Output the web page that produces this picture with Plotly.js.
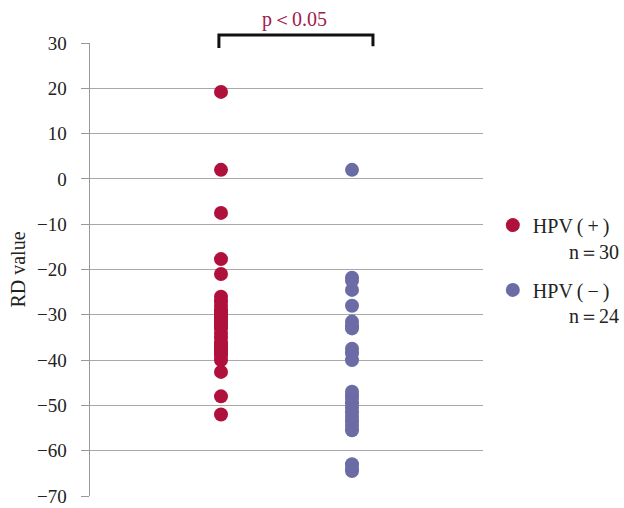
<!DOCTYPE html>
<html>
<head>
<meta charset="utf-8">
<script src="https://cdn.plot.ly/plotly-3.0.1.min.js"></script>
<style>html,body{margin:0;padding:0;background:#fff;}#chart{width:624px;height:508px;}</style>
</head>
<body>
<div id="chart"></div>
<script>
const groupNames = ["HPV\u2009(\u2009+\u2009)", "HPV\u2009(\u2009−\u2009)"];
const groupCounts = ["n＝30", "n＝24"];
const groupPositions = [1, 2];
const hpvPositive = [19.2, 2, -7.5, -17.7, -21, -26, -27, -28, -29, -29.5, -30, -30.5, -31, -31.5, -32, -32.5, -33, -34, -35, -36, -36.5, -37, -37.5, -38, -38.5, -39, -40, -42.6, -48, -52];
const hpvNegative = [2, -21.8, -22.5, -24.5, -28, -31.5, -32.5, -33, -37.5, -38.5, -40, -47, -47.8, -48.5, -49.5, -50.5, -51.5, -52.5, -53.5, -54.5, -55.5, -63, -64, -64.5];
const yTicks = [30, 20, 10, 0, -10, -20, -30, -40, -50, -60, -70];
const pText = "p＜0.05";

const serif = "Liberation Serif, Times New Roman, serif";
const red = "#b0103c";
const blue = "#6b6ba6";

const traces = [
  {x: hpvPositive.map(() => groupPositions[0]), y: hpvPositive, type: "scatter", mode: "markers",
   name: groupNames[0], legend: "legend", marker: {color: red, size: 14}, cliponaxis: false},
  {x: hpvNegative.map(() => groupPositions[1]), y: hpvNegative, type: "scatter", mode: "markers",
   name: groupNames[1], legend: "legend2", marker: {color: blue, size: 14}, cliponaxis: false}
];

const layout = {
  width: 624, height: 508,
  margin: {l: 90, r: 141, t: 43, b: 12, autoexpand: false},
  paper_bgcolor: "#fff", plot_bgcolor: "#fff",
  font: {family: serif, color: "#222", size: 20},
  showlegend: true,
  xaxis: {range: [0, 3], showgrid: false, zeroline: false, showticklabels: false, ticks: "", showline: false, fixedrange: true},
  yaxis: {range: [-70, 30], tickvals: yTicks, ticks: "outside", ticklen: 8, tickcolor: "#999",
          ticklabelstandoff: 10,
          showgrid: true, gridcolor: "#a8a8a8", gridwidth: 1, zeroline: false,
          showline: true, linecolor: "#999", linewidth: 1.5,
          tickfont: {family: serif, size: 19, color: "#222"},
          title: {text: "RD value", font: {family: serif, size: 20, color: "#222"}, standoff: 6}},
  legend: {x: 1.025, y: 0.598, xanchor: "left", yanchor: "middle", bgcolor: "rgba(0,0,0,0)",
           font: {family: serif, size: 20, color: "#222"}},
  legend2: {x: 1.025, y: 0.455, xanchor: "left", yanchor: "middle", bgcolor: "rgba(0,0,0,0)",
           font: {family: serif, size: 20, color: "#222"}},
  shapes: [
    {type: "path", xref: "paper", yref: "paper", path: "M 0.328 0.989 L 0.328 1.0177 L 0.720 1.0177 L 0.720 0.993",
     line: {color: "#111", width: 3}}
  ],
  annotations: [
    {xref: "paper", yref: "paper", x: 0.52, y: 1.022, yanchor: "bottom", xanchor: "center", showarrow: false,
     text: pText, font: {family: serif, size: 20, color: "#a0204a"}},
    {xref: "paper", yref: "paper", x: 1.35, y: 0.539, xanchor: "right", yanchor: "middle", showarrow: false,
     text: groupCounts[0], font: {family: serif, size: 20, color: "#222"}},
    {xref: "paper", yref: "paper", x: 1.35, y: 0.398, xanchor: "right", yanchor: "middle", showarrow: false,
     text: groupCounts[1], font: {family: serif, size: 20, color: "#222"}}
  ]
};

Plotly.newPlot("chart", traces, layout, {displayModeBar: false, staticPlot: true});
</script>
</body>
</html>
